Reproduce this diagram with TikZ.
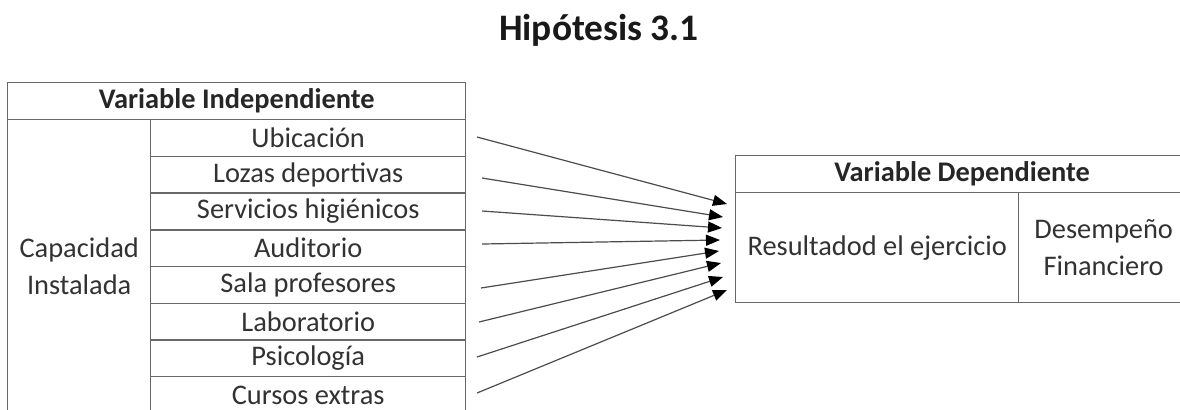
\documentclass[tikz,border=0pt]{standalone}
\usepackage{fontspec}
\setmainfont{Carlito}
\usetikzlibrary{arrows.meta}
\definecolor{rule}{RGB}{105,105,105}
\definecolor{ink}{RGB}{50,50,50}

\begin{document}
\begin{tikzpicture}[x=0.5pt,y=-0.5pt,
  cell/.style={draw=rule,line width=0.7pt,anchor=north west,inner sep=0pt,
    text=ink,align=center,font=\fontsize{14.2}{18.3}\selectfont},
  head/.style={cell,font=\fontsize{14.2}{18.3}\selectfont\bfseries,text=black!85},
  conn/.style={draw=black!70,line width=0.6pt,
    -{Triangle[length=7pt,width=5.5pt,color=black]}}]
\useasboundingbox (0,0) rectangle (1180,409);
\node[font=\fontsize{18.7}{22}\selectfont\bfseries,text=black!90] (title) at (599,30) {Hipótesis 3.1};
% independent variable table
\node[head,minimum width=229pt,minimum height=18.5pt] (hdrInd) at (7,82) {Variable Independiente};
\node[cell,minimum width=71.5pt,minimum height=146.8pt] (cap) at (7,119) {Capacidad\\Instalada};
\node[cell,minimum width=157.5pt,minimum height=18.35pt] (ubic) at (150,119) {Ubicación};
\node[cell,minimum width=157.5pt,minimum height=18.35pt] (lozas) at (150,155.7) {Lozas deportivas};
\node[cell,minimum width=157.5pt,minimum height=18.35pt] (serv) at (150,192.4) {Servicios higiénicos};
\node[cell,minimum width=157.5pt,minimum height=18.35pt] (audi) at (150,229.1) {Auditorio};
\node[cell,minimum width=157.5pt,minimum height=18.35pt] (sala) at (150,265.8) {Sala profesores};
\node[cell,minimum width=157.5pt,minimum height=18.35pt] (lab) at (150,302.5) {Laboratorio};
\node[cell,minimum width=157.5pt,minimum height=18.35pt] (psico) at (150,339.2) {Psicología};
\node[cell,minimum width=157.5pt,minimum height=18.35pt] (cursos) at (150,375.9) {Cursos extras};
% dependent variable table
\node[head,minimum width=226.5pt,minimum height=18.5pt] (hdrDep) at (735,155) {Variable Dependiente};
\node[cell,minimum width=141.5pt,minimum height=55pt] (res) at (735,192) {Resultadod el ejercicio};
\node[cell,minimum width=85pt,minimum height=55pt] (des) at (1018,192) {Desempeño\\Financiero};
% arrow ends
\coordinate (s1) at (477,137); \coordinate (t1) at (727,204);
\coordinate (s2) at (482,178); \coordinate (t2) at (723,217);
\coordinate (s3) at (482,211); \coordinate (t3) at (722,228);
\coordinate (s4) at (482,244); \coordinate (t4) at (720,240);
\coordinate (s5) at (481,288); \coordinate (t5) at (719,251);
\coordinate (s6) at (479,322); \coordinate (t6) at (721,263);
\coordinate (s7) at (477,357); \coordinate (t7) at (723,277);
\coordinate (s8) at (477,393); \coordinate (t8) at (727,290);
\draw[conn] (s1) -- (t1);
\draw[conn] (s2) -- (t2);
\draw[conn] (s3) -- (t3);
\draw[conn] (s4) -- (t4);
\draw[conn] (s5) -- (t5);
\draw[conn] (s6) -- (t6);
\draw[conn] (s7) -- (t7);
\draw[conn] (s8) -- (t8);
\end{tikzpicture}
\end{document}
